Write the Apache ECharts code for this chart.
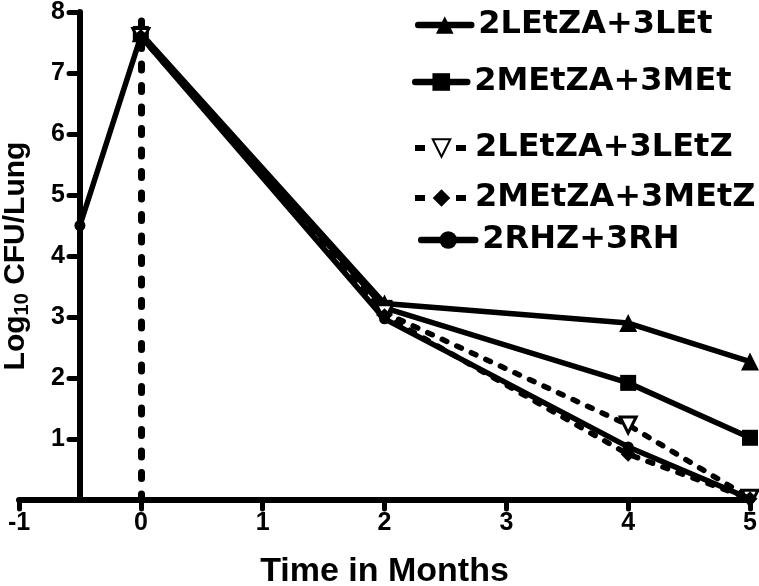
<!DOCTYPE html>
<html><head><meta charset="utf-8">
<script src="https://cdn.jsdelivr.net/npm/echarts@6/dist/echarts.min.js"></script>
<style>html,body{margin:0;padding:0;background:#fff}#c{width:759px;height:586px}</style>
</head><body><div id="c"></div>
<script>
// ---- data ----
const seriesNames = ['2LEtZA+3LEt', '2MEtZA+3MEt', '2LEtZA+3LEtZ', '2MEtZA+3MEtZ', '2RHZ+3RH'];
const monthsA = [0, 2, 4, 5];
const monthsRHZ = [-0.5, 0, 2, 4, 5];
const valsLEt = [7.65, 3.22, 2.90, 2.27];
const valsMEt = [7.64, 3.15, 1.92, 1.02];
const valsLEtZ = [7.60, 3.07, 1.23, 0.03];
const valsMEtZ = [7.60, 3.02, 0.75, 0.02];
const valsRHZ = [4.50, 7.60, 2.97, 0.87, 0.02];
const xMin = -1, xMax = 5, yMin = 0, yMax = 8;
const refLineMonth = 0;
const xTitle = 'Time in Months';

// ---- styling ----
const BLACK = '#000';
const pair = (xs, ys) => xs.map((x, i) => [x, ys[i]]);
const dash = [5, 11];
const specs = [
  { name: seriesNames[0], data: pair(monthsA, valsLEt), symbol: 'triangle', size: 18, rot: 0, dashed: false, hollow: false },
  { name: seriesNames[1], data: pair(monthsA, valsMEt), symbol: 'rect', size: 16, rot: 0, dashed: false, hollow: false },
  { name: seriesNames[2], data: pair(monthsA, valsLEtZ), symbol: 'triangle', size: 16, rot: 180, dashed: true, hollow: true },
  { name: seriesNames[3], data: pair(monthsA, valsMEtZ), symbol: 'diamond', size: 15, rot: 0, dashed: true, hollow: false },
  { name: seriesNames[4], data: pair(monthsRHZ, valsRHZ), symbol: 'circle', size: 11, rot: 0, dashed: false, hollow: false }
];

const series = specs.map((s, i) => ({
  type: 'line',
  name: s.name,
  data: s.data,
  symbol: s.symbol,
  symbolSize: s.size,
  symbolRotate: s.rot,
  showSymbol: true,
  z: 3 + i,
  lineStyle: { color: BLACK, width: 5.5, type: s.dashed ? dash : 'solid', cap: 'round', join: 'round' },
  itemStyle: { color: s.hollow ? '#fff' : BLACK, borderColor: BLACK, borderWidth: s.hollow ? 3 : 0 },
  emphasis: { disabled: true },
  silent: true
}));
series[0].markLine = {
  silent: true,
  symbol: ['none', 'none'],
  label: { show: false },
  z: 2,
  lineStyle: { color: BLACK, width: 7, type: [6, 15.5], cap: 'round' },
  data: [{ xAxis: refLineMonth }]
};

const legendRows = [
  { left: 415, center: 26, w: 53, dashed: false },
  { left: 412, center: 83, w: 52, dashed: false },
  { left: 412, center: 149, w: 53, dashed: true },
  { left: 412, center: 199, w: 53, dashed: true },
  { left: 418, center: 241, w: 54, dashed: false }
];
const legends = legendRows.map((r, i) => ({
  data: [seriesNames[i]],
  left: r.left,
  top: r.center - 17,
  padding: 0,
  itemWidth: r.w,
  itemHeight: 22,
  selectedMode: false,
  lineStyle: r.dashed ? { width: 6, color: BLACK, type: [10, 31], cap: 'butt' } : { width: 6.5, color: BLACK, type: 'solid' },
  textStyle: { color: BLACK, fontFamily: 'DejaVu Sans', fontWeight: 'bold', fontSize: 32, padding: [0, 0, 0, 2] }
}));

const tickFont = { color: BLACK, fontFamily: "'Liberation Sans Narrow', 'Liberation Sans'", fontWeight: 'bold', fontSize: 25 };

const option = {
  animation: false,
  backgroundColor: '#fff',
  grid: { left: 19, right: 9, top: 12, bottom: 86, containLabel: false, outerBoundsMode: 'none' },
  legend: legends,
  xAxis: {
    type: 'value', min: xMin, max: xMax, interval: 1,
    name: xTitle, nameLocation: 'middle', nameGap: 55,
    nameTextStyle: { color: BLACK, fontFamily: 'Liberation Sans', fontWeight: 'bold', fontSize: 34 },
    axisLine: { onZero: false, lineStyle: { color: BLACK, width: 6, cap: 'round' } },
    axisTick: { show: true, length: 9, lineStyle: { color: BLACK, width: 5, cap: 'round' } },
    axisLabel: Object.assign({ margin: 11 }, tickFont),
    splitLine: { show: false }
  },
  yAxis: {
    type: 'value', min: yMin, max: yMax, interval: 1,
    offset: -61,
    name: '{a|Log}{s|10}{a| CFU/Lung}', nameLocation: 'middle', nameGap: 48,
    nameTextStyle: {
      rich: {
        a: { color: BLACK, fontFamily: 'Liberation Sans', fontWeight: 'bold', fontSize: 30 },
        s: { color: BLACK, fontFamily: 'Liberation Sans', fontWeight: 'bold', fontSize: 20, padding: [12, 0, 0, 0] }
      }
    },
    axisLine: { onZero: false, lineStyle: { color: BLACK, width: 6, cap: 'round' } },
    axisTick: { show: true, length: 11, lineStyle: { color: BLACK, width: 5, cap: 'round' } },
    axisLabel: Object.assign({ margin: 15, formatter: v => (v === 0 ? '' : String(v)) }, tickFont),
    splitLine: { show: false }
  },
  series: series
};

const chart = echarts.init(document.getElementById('c'), null, { renderer: 'canvas' });
chart.setOption(option);
</script>
</body></html>
